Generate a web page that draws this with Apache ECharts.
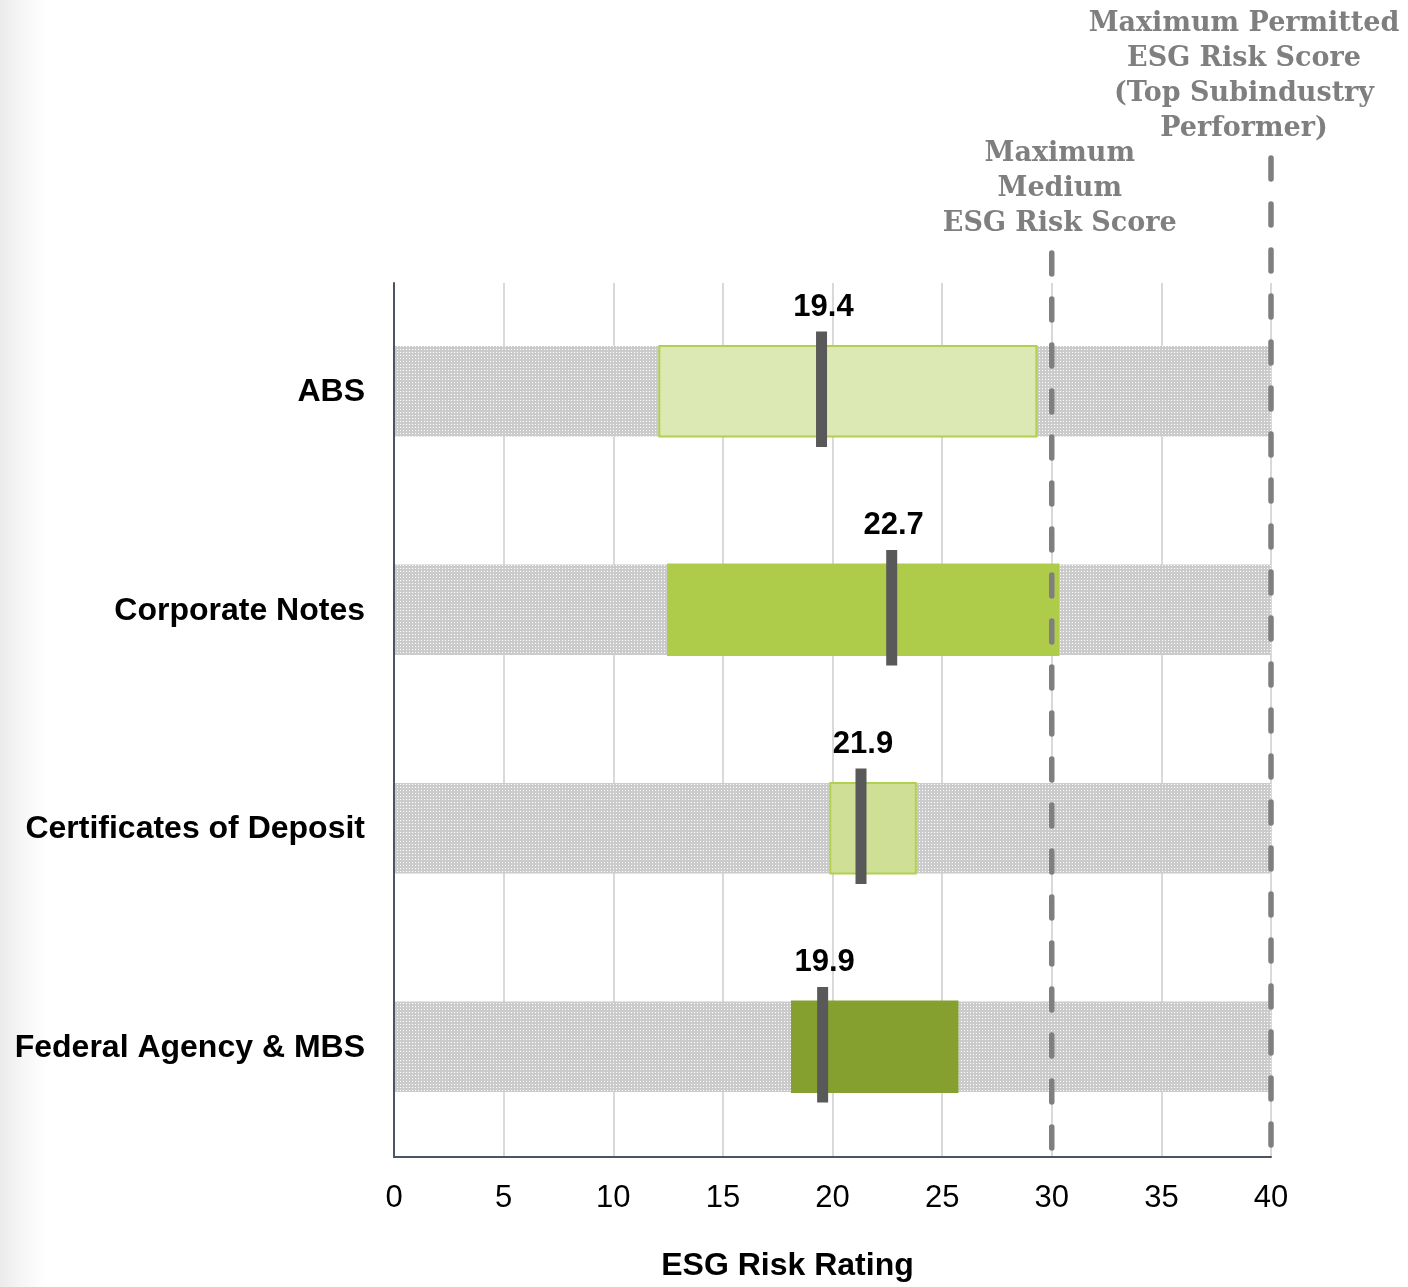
<!DOCTYPE html>
<html>
<head>
<meta charset="utf-8">
<script src="https://cdn.jsdelivr.net/npm/echarts@6/dist/echarts.min.js"></script>
<style>
  html, body { margin: 0; padding: 0; }
  body {
    width: 1408px; height: 1287px; overflow: hidden;
    background: linear-gradient(to right, #ebebeb 0px, #f6f6f6 22px, #ffffff 48px);
  }
  #chart { width: 1408px; height: 1287px; }
</style>
</head>
<body>
<div id="chart"></div>
<script>
// --- data ---
const categories = ['ABS', 'Corporate Notes', 'Certificates of Deposit', 'Federal Agency & MBS']
const rangeLow = [12.1, 12.5, 19.9, 18.15]
const rangeHigh = [29.3, 30.3, 23.8, 25.7]
const markerPos = [19.5, 22.7, 21.3, 19.55]
const markerLabels = ['19.4', '22.7', '21.9', '19.9']
const scaleMax = 40
const xTicks = [0, 5, 10, 15, 20, 25, 30, 35, 40]
const thresholds = [30, 40]
const thresholdLabels = [
  'Maximum\nMedium\nESG Risk Score',
  'Maximum Permitted\nESG Risk Score\n(Top Subindustry\nPerformer)'
]

// --- styling ---
const rangeFill = ['#dde9b4', '#afcb4a', '#cfe096', '#86a030']
const rangeBorder = ['#b2d050', '#afcb4a', '#b2d050', '#86a030']
const lineTopAbove = [33, 128]   // how far the dashed lines reach above the plot
const labelDx = [8, -27]
const sans = '"Liberation Sans", Arial, sans-serif'
const serif = '"DejaVu Serif", Georgia, serif'

// dotted grey fill for the 0-40 background bars
function dotPattern(){
  let c = document.createElement('canvas')
  c.width = 3
  c.height = 3
  let ctx = c.getContext('2d')
  ctx.fillStyle = '#cbcbcb'
  ctx.fillRect(0, 0, 3, 3)
  ctx.fillStyle = '#ffffff'
  ctx.fillRect(1, 1, 1, 1)
  return c
}
const pattern = { image: dotPattern(), repeat: 'repeat' }

let chartDom = document.getElementById('chart')
let mychart = echarts.init(chartDom, null, { renderer: 'canvas' })

function bandHeight(api, k){
  return api.size([0, 1])[1] * k
}

let option = {
  backgroundColor: 'transparent',
  animation: false,
  grid: { left: 394, right: 137, top: 283, bottom: 124, containLabel: false },
  xAxis: {
    type: 'value',
    min: xTicks[0],
    max: scaleMax,
    interval: xTicks[1] - xTicks[0],
    axisLine: { show: true, lineStyle: { color: '#4a5560', width: 2 } },
    axisTick: { show: false },
    splitLine: { show: true, lineStyle: { color: '#d9d9d9', width: 2 } },
    axisLabel: { color: '#000', fontSize: 31, fontFamily: sans, margin: 26 },
    name: 'ESG Risk Rating',
    nameLocation: 'middle',
    nameGap: 93,
    nameTextStyle: { color: '#000', fontSize: 32, fontWeight: 'bold', fontFamily: sans, padding: [0, 90, 0, 0] }
  },
  yAxis: {
    type: 'category',
    data: categories,
    inverse: true,
    axisLine: { show: true, lineStyle: { color: '#4a5560', width: 2 } },
    axisTick: { show: false },
    splitLine: { show: false },
    axisLabel: { color: '#000', fontSize: 32, fontWeight: 'bold', fontFamily: sans, margin: 29 }
  },
  series: [
    {
      // full-scale dotted background
      type: 'custom',
      data: categories.map((c, i) => [i, 0, scaleMax]),
      encode: { x: [1, 2], y: 0 },
      renderItem: function(params, api){
        let s = api.coord([api.value(1), api.value(0)])
        let e = api.coord([api.value(2), api.value(0)])
        let h = bandHeight(api, 0.415)
        return {
          type: 'rect',
          shape: { x: s[0] + 1, y: s[1] - h / 2 - 1, width: e[0] - s[0] - 1, height: h },
          style: { fill: pattern }
        }
      },
      z: 2
    },
    {
      // risk range per sector
      type: 'custom',
      data: categories.map((c, i) => [i, rangeLow[i], rangeHigh[i]]),
      encode: { x: [1, 2], y: 0 },
      renderItem: function(params, api){
        let i = params.dataIndex
        let s = api.coord([api.value(1), api.value(0)])
        let e = api.coord([api.value(2), api.value(0)])
        let h = bandHeight(api, 0.415)
        return {
          type: 'rect',
          shape: { x: s[0], y: s[1] - h / 2 - 1, width: e[0] - s[0], height: h },
          style: { fill: rangeFill[i], stroke: rangeBorder[i], lineWidth: 2 }
        }
      },
      z: 3
    },
    {
      // weighted average markers with labels
      type: 'custom',
      data: categories.map((c, i) => [i, markerPos[i]]),
      encode: { x: 1, y: 0 },
      renderItem: function(params, api){
        let i = params.dataIndex
        let p = api.coord([api.value(1), api.value(0)])
        let h = bandHeight(api, 0.528)
        let top = p[1] - h / 2 - 3
        return {
          type: 'group',
          children: [
            {
              type: 'rect',
              shape: { x: p[0] - 5.5, y: top, width: 11, height: h },
              style: { fill: '#595959' }
            },
            {
              type: 'text',
              style: {
                text: markerLabels[i],
                x: p[0] + 2,
                y: top - 9,
                textAlign: 'center',
                textVerticalAlign: 'bottom',
                font: 'bold 31px ' + sans,
                fill: '#000'
              }
            }
          ]
        }
      },
      z: 5
    },
    {
      // dashed threshold lines with their captions
      type: 'custom',
      clip: false,
      data: thresholds.map((t, i) => [t, i]),
      encode: { x: 0 },
      renderItem: function(params, api){
        let i = params.dataIndex
        let cs = params.coordSys
        let x = api.coord([api.value(0), 0])[0]
        let bottom = cs.y + cs.height
        let top = cs.y - lineTopAbove[i]
        return {
          type: 'group',
          children: [
            {
              type: 'line',
              shape: { x1: x, y1: top + 3, x2: x, y2: bottom },
              style: { stroke: '#7f7f7f', lineWidth: 5.5, lineDash: [21, 25], lineCap: 'round' }
            },
            {
              type: 'text',
              style: {
                text: thresholdLabels[i],
                x: x + labelDx[i],
                y: top - 9,
                textAlign: 'center',
                textVerticalAlign: 'bottom',
                font: 'bold 27px ' + serif,
                lineHeight: 35,
                fill: '#7f7f7f'
              }
            }
          ]
        }
      },
      z: 6
    }
  ]
}

mychart.setOption(option)
window.addEventListener('resize', () => { mychart.resize() })
</script>
</body>
</html>
